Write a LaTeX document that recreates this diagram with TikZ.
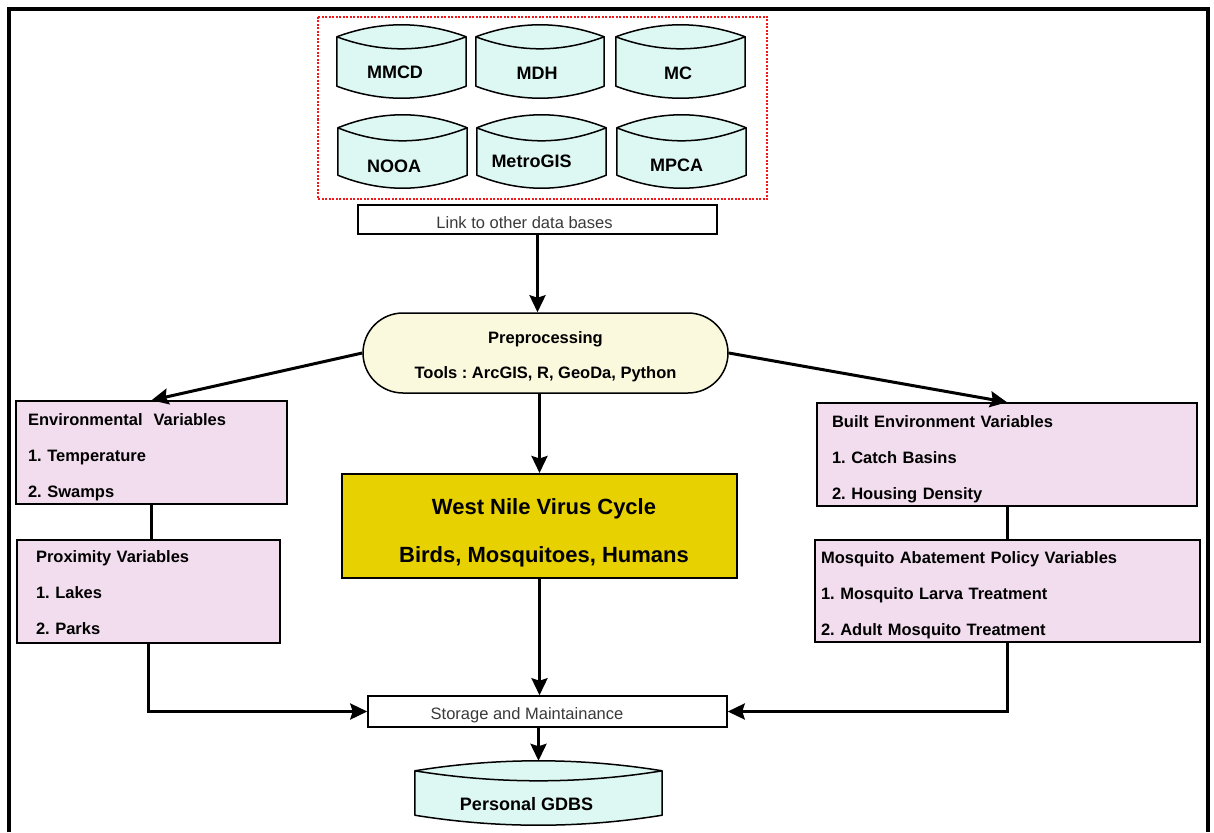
\documentclass[tikz,border=0pt]{standalone}
\usepackage{fontspec}
\setmainfont{Liberation Sans}
\frenchspacing
\usetikzlibrary{arrows.meta,calc,shapes.misc,backgrounds}

\definecolor{dbfill}{HTML}{DDF7F2}
\definecolor{varfill}{HTML}{F2DDEF}
\definecolor{prefill}{HTML}{FAF8DD}
\definecolor{wnvfill}{HTML}{E8D100}
\definecolor{softtext}{HTML}{3A3A3A}
\definecolor{dotred}{HTML}{F01818}

\newcommand\dbfont{\fontsize{18}{20}\selectfont\bfseries}
\newcommand\varfont{\fontsize{16.5}{36}\selectfont\bfseries}
% invisible strut that pushes a node's text block down
\newcommand\lift[1]{\rule{0pt}{#1}}

% database drum drawn around a named body node; #2 = arc bulge
\newcommand\dbshape[2]{%
  \filldraw[dbline] ($(#1.north west)+(0,#2)$)
    .. controls ($(#1.north west)!1/3!(#1.north east)+(0,-#2/3)$)
            and ($(#1.north west)!2/3!(#1.north east)+(0,-#2/3)$) .. ($(#1.north east)+(0,#2)$)
    -- ($(#1.south east)+(0,-#2)$)
    .. controls ($(#1.south east)!1/3!(#1.south west)+(0,#2/3)$)
            and ($(#1.south east)!2/3!(#1.south west)+(0,#2/3)$) .. ($(#1.south west)+(0,-#2)$)
    -- cycle;
  \draw[dbline, fill=none] ($(#1.north west)+(0,#2)$)
    .. controls ($(#1.north west)!1/3!(#1.north east)+(0,7*#2/3)$)
            and ($(#1.north west)!2/3!(#1.north east)+(0,7*#2/3)$) .. ($(#1.north east)+(0,#2)$);
}

\tikzset{
  dbase/.style 2 args={rectangle, inner sep=0pt, minimum width=#1, minimum height=#2},
  dbline/.style={draw=black, line width=1.5pt, fill=dbfill, line join=round},
  dbtext/.style={font=\dbfont, inner sep=0pt},
  varbox/.style={rectangle, draw=black, line width=1.5pt, fill=varfill, font=\varfont,
    align=left, inner ysep=0pt},
  plainbox/.style={rectangle, draw=black, line width=1.5pt, fill=white, inner sep=0pt,
    font=\fontsize{16.5}{18}\selectfont, text=softtext},
  prebox/.style={rounded rectangle, draw=black, line width=1.5pt, fill=prefill,
    minimum width=365pt, minimum height=80pt, inner sep=0pt, align=center,
    font=\fontsize{16.5}{35}\selectfont\bfseries},
  wnvbox/.style={rectangle, draw=black, line width=2pt, fill=wnvfill,
    minimum width=395pt, minimum height=104pt, inner sep=0pt, align=center,
    font=\fontsize{22}{48}\selectfont\bfseries},
  flow/.style={line width=3pt, -{Stealth[length=17pt,width=16pt,inset=2.5pt]}},
  link/.style={line width=3pt},
}

\begin{document}
\begin{tikzpicture}[x=1pt,y=-1pt]
\useasboundingbox (0,0) rectangle (1214,832);

% page frame, open at the bottom
\draw[line width=4pt] (9,832) -- (9,9) -- (1207.5,9) -- (1207.5,832);

% source databases
\draw[dotred, line width=2pt, dash pattern=on 2pt off 1.5pt] (318,17) rectangle (767,199);

\node[dbase={129pt}{73pt}, label={[dbtext, name=mmcd-t, xshift=-6.5pt, yshift=-11pt]center:MMCD}] (mmcd) at (401.5,61.5) {};
\node[dbase={128pt}{73pt}, label={[dbtext, name=mdh-t, xshift=-3pt, yshift=-11.5pt]center:MDH}] (mdh) at (540,61.5) {};
\node[dbase={129pt}{73pt}, label={[dbtext, name=mc-t, xshift=-2.5pt, yshift=-11.5pt]center:MC}] (mc) at (680.5,61.5) {};
\node[dbase={129pt}{73pt}, label={[dbtext, name=nooa-t, xshift=-8.5pt, yshift=-14.5pt]center:NOOA}] (nooa) at (402.5,151.5) {};
\node[dbase={129pt}{73pt}, label={[dbtext, name=metro-t, xshift=-10pt, yshift=-10pt]center:MetroGIS}] (metro) at (541.5,151.5) {};
\node[dbase={129pt}{73pt}, label={[dbtext, name=mpca-t, xshift=-5pt, yshift=-14pt]center:MPCA}] (mpca) at (681.5,151.5) {};

\node[plainbox, minimum width=359pt, minimum height=29pt] (linkdb) at (537.5,219.5)
  {\lift{18pt}\hspace*{-26pt}Link to other data bases};

% processing chain
\node[prebox] (pre) at (545.5,353) {\lift{20pt}Preprocessing\\Tools : ArcGIS, R, GeoDa, Python};

\node[varbox, minimum height=103pt, inner xsep=12pt, text width=247pt] (env) at (151.5,452.5)
  {\lift{22pt}Environmental~~Variables\\1. Temperature\\2. Swamps};
\node[varbox, minimum height=103pt, inner xsep=19pt, text width=225pt] (prox) at (148.5,591.5)
  {\lift{14pt}Proximity Variables\\1. Lakes\\2. Parks};
\node[varbox, minimum height=103pt, inner xsep=15pt, text width=350pt] (built) at (1007,454.5)
  {\lift{21pt}Built Environment Variables\\1. Catch Basins\\2. Housing Density};
\node[varbox, minimum height=102pt, inner xsep=6pt, text width=373pt] (mosq) at (1007.5,591)
  {\lift{20pt}Mosquito Abatement Policy Variables\\1. Mosquito Larva Treatment\\2. Adult Mosquito Treatment};

\node[wnvbox] (wnv) at (539.5,526)
  {\lift{30pt}\hspace*{9pt}West Nile Virus Cycle\\\hspace*{9pt}Birds, Mosquitoes, Humans};

\node[plainbox, minimum width=359pt, minimum height=31pt] (store) at (547.5,711.5)
  {\lift{19pt}\hspace*{-41pt}Storage and Maintainance};

\node[dbase={247pt}{64pt}, label={[dbtext, name=gdbs-t, xshift=-12pt, yshift=-11pt]center:Personal GDBS}] (gdbs) at (538.5,793) {};

% drum outlines behind their labels
\begin{scope}[on background layer]
  \dbshape{mmcd}{12}
  \dbshape{mdh}{12}
  \dbshape{mc}{12}
  \dbshape{nooa}{13}
  \dbshape{metro}{13}
  \dbshape{mpca}{13}
  \dbshape{gdbs}{10}
\end{scope}

% connectors
\draw[flow] (linkdb.south) -- (linkdb.south |- pre.north);
\draw[flow] (pre.west) -- (env.north);
\draw[flow] (pre.east) -- (built.north);
\draw[flow] (wnv.north |- pre.south) -- (wnv.north);
\draw[link] (env.south) -- (env.south |- prox.north);
\draw[link] (built.south) -- (built.south |- mosq.north);
\draw[flow] (prox.south) |- (store.west);
\draw[flow] (mosq.south) |- (store.east);
\draw[flow] (wnv.south) -- (wnv.south |- store.north);
\draw[flow] (gdbs.north |- store.south) -- (gdbs.north);
\end{tikzpicture}
\end{document}
